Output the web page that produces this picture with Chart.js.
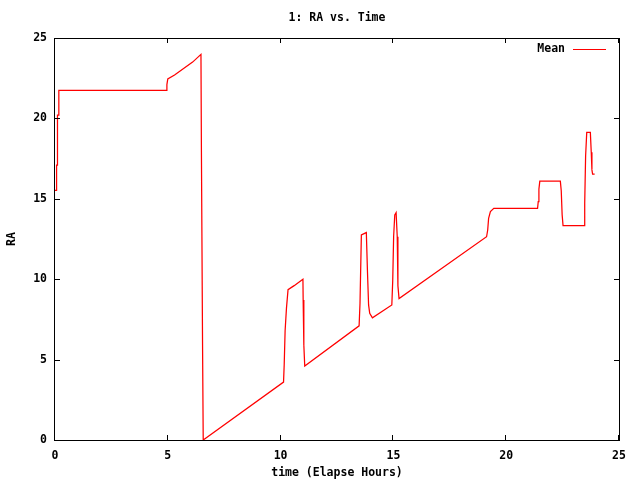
<!DOCTYPE html>
<html>
<head>
<meta charset="utf-8">
<script src="https://cdn.jsdelivr.net/npm/chart.js@4/dist/chart.umd.min.js"></script>
<style>
    html, body { margin: 0; padding: 0; background: #fff; }
    #wrap { width: 640px; height: 480px; }
</style>
</head>
<body>
<div id="wrap"><canvas id="raChart" width="640" height="480"></canvas></div>
<script>
// --- Data ---
const timeHours = [
    0, 0.06, 0.07, 0.10, 0.11, 0.16, 0.17, 4.94, 4.96, 5.0, 5.3, 5.7, 6.1, 6.47,
    6.49, 6.54, 6.57, 10.13, 10.16, 10.2, 10.26, 10.33, 10.6, 10.99, 11.0, 11.03, 11.07,
    13.48, 13.52, 13.58, 13.8, 13.85, 13.9, 13.95, 14.07, 14.93, 14.97, 15.01, 15.06,
    15.12, 15.17, 15.2, 15.25, 19.13, 19.18, 19.22, 19.3, 19.45, 21.39, 21.42, 21.45,
    21.49, 22.4, 22.44, 22.48, 22.52, 23.45, 23.48, 23.52, 23.57, 23.73, 23.77, 23.8,
    23.83, 23.92
];
const raMean = [
    15.53, 15.53, 17.1, 17.1, 20.2, 20.2, 21.75, 21.75, 22.1, 22.45, 22.7, 23.1, 23.5, 23.98,
    18.0, 6.0, 0.0, 3.6, 4.7, 6.8, 8.2, 9.35, 9.6, 10.0, 8.7, 5.9, 4.6,
    7.1, 8.5, 12.75, 12.9, 10.5, 8.4, 7.88, 7.6, 8.4, 9.9, 12.64, 14.0,
    14.14, 12.64, 9.6, 8.8, 12.64, 13.06, 13.78, 14.2, 14.41, 14.41, 14.82, 15.6,
    16.1, 16.1, 15.5, 14.0, 13.33, 13.33, 14.72, 17.66, 19.13, 19.13, 17.9, 16.8,
    16.54, 16.54
];
const xTicks = [0, 5, 10, 15, 20, 25];
const yTicks = [0, 5, 10, 15, 20, 25];

const chartTitle = '1: RA vs. Time';
const xTitle = 'time (Elapse Hours)';
const yTitle = 'RA';
const seriesName = 'Mean';

const FONT_FAMILY = '"DejaVu Sans Mono", "Liberation Mono", monospace';
const baseFont = { family: FONT_FAMILY, size: 11.5, weight: 'bold', lineHeight: 1.2 };

// --- gnuplot-like frame, inward mirrored ticks, title and key ---
const gnuplotDecor = {
    id: 'gnuplotDecor',
    afterDatasetsDraw(chart) {
        const { ctx, chartArea: a, scales } = chart;
        ctx.save();
        ctx.strokeStyle = '#000';
        ctx.lineWidth = 1;
        ctx.strokeRect(a.left - 0.5, a.top + 0.5, a.right - a.left + 1, a.bottom - a.top);

        ctx.beginPath();
        xTicks.forEach(v => {
            const px = Math.round(scales.x.getPixelForValue(v)) - 0.5;
            ctx.moveTo(px, a.bottom); ctx.lineTo(px, a.bottom - 5);
            ctx.moveTo(px, a.top); ctx.lineTo(px, a.top + 5);
        });
        yTicks.forEach(v => {
            const py = Math.round(scales.y.getPixelForValue(v)) + 0.5;
            ctx.moveTo(a.left, py); ctx.lineTo(a.left + 5, py);
            ctx.moveTo(a.right, py); ctx.lineTo(a.right - 5, py);
        });
        ctx.stroke();

        ctx.fillStyle = '#000';
        ctx.font = 'bold 11.5px ' + FONT_FAMILY;
        ctx.textBaseline = 'middle';
        ctx.textAlign = 'center';
        ctx.fillText(chartTitle, (a.left + a.right) / 2, 18);

        // key
        ctx.textAlign = 'right';
        ctx.fillText(seriesName, 565, 49);
        ctx.strokeStyle = '#ff0000';
        ctx.beginPath();
        ctx.moveTo(573, 49.5); ctx.lineTo(606, 49.5);
        ctx.stroke();
        ctx.restore();
    }
};

function initChart() {
    const ctx = document.getElementById('raChart').getContext('2d');
    const points = timeHours.map((t, i) => ({ x: t, y: raMean[i] }));

    new Chart(ctx, {
        type: 'line',
        data: {
            datasets: [{
                label: seriesName,
                data: points,
                borderColor: '#ff0000',
                borderWidth: 1.25,
                pointRadius: 0,
                tension: 0,
                fill: false
            }]
        },
        options: {
            responsive: false,
            animation: false,
            layout: { padding: { top: 38, right: 21, left: 0, bottom: 0 } },
            plugins: { legend: { display: false }, title: { display: false }, tooltip: { enabled: false } },
            scales: {
                x: {
                    type: 'linear',
                    min: 0, max: 25,
                    afterBuildTicks: s => { s.ticks = xTicks.map(v => ({ value: v })); },
                    afterFit: s => { s.height = 40; },
                    grid: { display: false, drawTicks: false },
                    border: { display: false },
                    ticks: { color: '#000', font: baseFont, padding: 9, maxRotation: 0 },
                    title: { display: true, text: xTitle, color: '#000', font: baseFont, padding: { top: 0, bottom: 0 } }
                },
                y: {
                    type: 'linear',
                    min: 0, max: 25,
                    afterBuildTicks: s => { s.ticks = yTicks.map(v => ({ value: v })); },
                    afterFit: s => { s.width = 55; },
                    grid: { display: false, drawTicks: false },
                    border: { display: false },
                    ticks: { color: '#000', font: baseFont, padding: 8 },
                    title: { display: true, text: yTitle, color: '#000', font: baseFont, padding: { top: 5, bottom: 0 } }
                }
            }
        },
        plugins: [gnuplotDecor]
    });
}

document.addEventListener('DOMContentLoaded', initChart);
</script>
</body>
</html>
